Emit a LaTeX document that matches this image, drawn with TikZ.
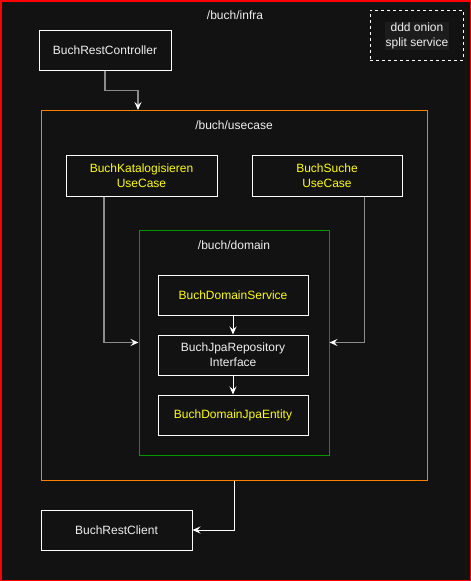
\documentclass[tikz,border=0pt]{standalone}
\usepackage{fontspec}
\setmainfont{Liberation Sans}
\usepackage{tikz}
\usepackage{xcolor}
\usetikzlibrary{arrows.meta}

\definecolor{bgdark}{HTML}{121212}
\definecolor{bglabel}{HTML}{1C1C1C}
\definecolor{txtwhite}{HTML}{F0F0F0}
\definecolor{txtyellow}{HTML}{FFFF00}
\definecolor{lineorange}{HTML}{FF8000}
\definecolor{linegreen}{HTML}{009900}
\definecolor{linegray}{HTML}{8C8C8C}

\begin{document}
\begin{tikzpicture}[x=1pt,y=-1pt,font=\fontsize{12}{15}\selectfont]
    \tikzstyle{box}=[draw=white,line width=1pt,rectangle,inner sep=0pt,align=center,text=txtwhite]
    \tikzstyle{label}=[inner sep=0pt,text=txtwhite]
    \tikzstyle{yel}=[text=txtyellow]
    \tikzstyle{link}=[draw=linegray,line width=1.5pt,-{Stealth[color=white,length=8pt,width=7pt,inset=3pt]}]
    \tikzstyle{wlink}=[draw=white,line width=1pt,-{Stealth[color=white,length=8pt,width=7pt,inset=3pt]}]

    % background and frame
    \useasboundingbox (0,0) rectangle (471,581);
    \fill[bgdark] (0,0) rectangle (471,581);
    \draw[red,line width=1.5pt] (0.75,0.75) rectangle (470.25,580.25);

    \node[label] (infra) at (235,15) {/buch/infra};
    \node[box,minimum width=132pt,minimum height=40pt] (ctrl) at (105,50) {BuchRestController};
    \node[box,dashed,minimum width=93pt,minimum height=50pt] (onion) at (416.5,35) {};
    \node[label,fill=bglabel,align=center,inner sep=1pt] (oniontxt) at (417,36) {ddd onion\\split service};

    % usecase layer
    \node[box,draw=lineorange,minimum width=386pt,minimum height=370pt] (usecase) at (234,295) {};
    \node[label] (usecasetxt) at (234,125) {/buch/usecase};
    \node[box,yel,minimum width=151pt,minimum height=41pt] (katalog) at (141.5,175.5) {BuchKatalogisieren\\UseCase};
    \node[box,yel,minimum width=150pt,minimum height=41pt] (suche) at (327,175.5) {BuchSuche\\UseCase};

    % domain layer
    \node[box,draw=linegreen,minimum width=190pt,minimum height=225pt] (domain) at (234,342.5) {};
    \node[label] (domaintxt) at (234,245) {/buch/domain};
    \node[box,yel,minimum width=150pt,minimum height=40pt] (dservice) at (233,295) {BuchDomainService};
    \node[box,minimum width=150pt,minimum height=40pt] (repo) at (233,355) {BuchJpaRepository\\Interface};
    \node[box,yel,minimum width=150pt,minimum height=40pt] (entity) at (233,415) {BuchDomainJpaEntity};

    \node[box,minimum width=151pt,minimum height=40pt] (client) at (116.5,530) {BuchRestClient};

    % connectors
    \coordinate (uin) at (138,110);
    \draw[link] (ctrl.south) -- ++(0,20) -| (uin);
    \draw[link] ([xshift=-37.75pt]katalog.south) |- (domain.west);
    \draw[link] ([xshift=37.5pt]suche.south) |- (domain.east);
    \draw[wlink] (dservice) -- (repo);
    \draw[wlink] (repo) -- (entity);
    \draw[wlink] (usecase.south) |- (client.east);
\end{tikzpicture}
\end{document}
